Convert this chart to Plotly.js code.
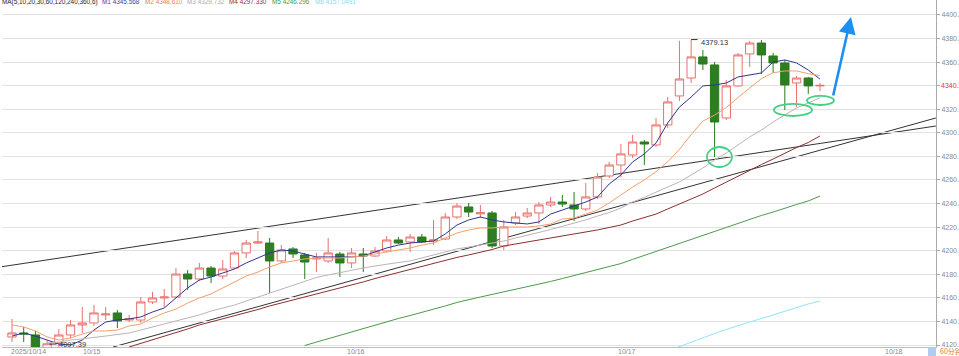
<!DOCTYPE html>
<html><head><meta charset="utf-8">
<script src="https://cdn.plot.ly/plotly-3.0.1.min.js"></script>
<style>html,body{margin:0;padding:0;background:#fff;} #chart{width:959px;height:356px;}</style>
</head><body><div id="chart"></div>
<script>
// 60-minute bars, 2025/10/14 - 10/18
const openP = [4126.8,4130.2,4128.5,4113.0,4121.7,4128.5,4137.0,4138.7,4145.5,4147.2,
4141.2,4141.2,4156.5,4159.9,4160.7,4180.2,4176.0,4185.3,4178.5,4185.3,
4198.1,4206.5,4206.5,4191.3,4201.5,4196.4,4193.0,4191.3,4197.2,4189.6,
4197.2,4195.5,4199.8,4209.1,4207.4,4211.6,4208.2,4209.9,4228.6,4237.1,
4231.3,4232.0,4204.0,4223.5,4229.4,4232.0,4238.8,4241.3,4238.8,4235.4,
4245.6,4263.4,4272.7,4281.2,4292.2,4289.7,4306.7,4331.3,4346.5,4364.4,
4357.6,4312.6,4339.8,4366.9,4376.2,4365.2,4359.3,4342.3,4346.5,4339.8];
const highP = [4142.1,4135.3,4131.9,4124.0,4133.6,4141.2,4152.2,4153.9,4152.2,4149.7,
4145.5,4160.7,4165.0,4167.5,4185.3,4183.6,4189.6,4187.0,4192.1,4199.8,
4209.1,4216.7,4210.8,4204.8,4203.1,4198.1,4198.1,4210.8,4198.9,4202.3,
4202.3,4203.1,4212.5,4211.6,4214.2,4214.2,4226.1,4232.0,4240.5,4240.5,
4238.8,4233.7,4226.1,4232.8,4236.2,4241.3,4245.6,4247.3,4249.8,4257.4,
4265.9,4275.3,4290.5,4298.2,4293.9,4312.6,4330.4,4378.0,4379.13,4370.3,
4360.1,4344.8,4367.8,4377.9,4378.8,4367.8,4361.8,4348.2,4347.4,4342.3];
const lowP = [4122.5,4122.5,4108.0,4097.39,4118.3,4125.9,4130.2,4136.1,4141.2,4134.4,
4139.5,4138.7,4154.8,4152.2,4159.9,4166.7,4174.3,4172.6,4176.0,4184.5,
4193.8,4205.7,4164.1,4189.6,4193.8,4176.0,4181.9,4189.6,4177.7,4185.3,
4181.9,4194.7,4198.9,4205.7,4198.9,4206.5,4204.8,4209.1,4226.9,4228.6,
4227.7,4202.3,4200.6,4221.8,4227.7,4222.7,4237.1,4237.1,4225.2,4233.7,
4243.9,4261.7,4262.5,4278.7,4272.7,4288.0,4304.1,4327.0,4342.3,4353.3,
4279.5,4310.9,4338.9,4355.9,4349.9,4350.8,4319.4,4321.9,4333.0,4335.5];
const closeP = [4130.2,4129.3,4114.0,4121.0,4128.5,4137.0,4138.7,4147.2,4146.3,4140.4,
4142.5,4156.5,4159.9,4160.7,4180.2,4176.0,4185.3,4178.5,4184.5,4198.1,
4206.5,4207.4,4191.3,4200.6,4197.2,4190.4,4193.8,4198.1,4189.6,4198.1,
4195.5,4199.8,4209.1,4206.5,4211.6,4207.4,4209.1,4228.6,4237.9,4232.8,
4232.2,4204.0,4220.1,4228.6,4232.0,4238.8,4241.3,4239.6,4235.4,4245.6,
4262.5,4272.7,4282.1,4292.2,4290.5,4306.7,4326.2,4345.7,4364.4,4358.4,
4309.2,4339.8,4366.1,4376.2,4366.1,4359.3,4340.6,4346.5,4339.8,4340.26];

const ma5 = [4127.6,4130.2,4127.6,4124.2,4120.8,4120.0,4124.2,4132.7,4139.5,4141.2,
4142.1,4143.8,4148.0,4151.4,4159.9,4168.4,4175.1,4177.7,4181.1,4184.5,
4189.6,4193.8,4198.1,4200.6,4199.8,4197.2,4194.7,4194.7,4194.7,4194.7,
4195.5,4198.9,4202.3,4204.8,4206.5,4207.4,4208.2,4214.2,4221.8,4226.1,
4228.6,4226.1,4224.4,4223.5,4222.7,4224.4,4231.1,4234.5,4237.9,4241.3,
4245.6,4256.6,4264.2,4275.3,4282.1,4291.4,4308.4,4321.9,4330.4,4339.8,
4340.6,4342.3,4347.4,4349.1,4350.8,4360.1,4361.8,4359.3,4353.3,4345.568];
const ma10 = [4137.0,4135.3,4131.9,4126.8,4124.2,4125.9,4129.3,4131.9,4131.9,4132.7,
4136.1,4137.8,4142.9,4147.2,4150.5,4155.6,4159.9,4163.3,4168.4,4173.5,
4178.5,4181.9,4186.2,4189.6,4191.3,4193.0,4193.8,4193.8,4193.8,4194.7,
4195.5,4197.2,4198.9,4200.6,4202.3,4204.8,4206.5,4210.8,4215.0,4217.6,
4219.3,4219.3,4220.1,4220.1,4220.1,4221.0,4222.7,4226.9,4227.7,4231.1,
4234.5,4240.5,4247.5,4254.0,4260.0,4267.0,4275.5,4286.0,4298.5,4310.0,
4315.0,4321.5,4330.0,4338.3,4346.0,4351.0,4352.5,4352.5,4350.2,4348.610];
const ma20 = [null,null,null,4121.7,4122.5,4124.2,4125.1,4126.4,4127.6,4128.9,
4130.2,4132.7,4135.3,4137.8,4140.4,4142.9,4145.5,4148.8,4151.4,4153.9,
4157.3,4160.7,4164.1,4167.5,4170.9,4174.3,4177.3,4179.4,4181.5,4183.6,
4185.3,4187.0,4188.7,4190.0,4191.3,4193.8,4196.4,4199.4,4201.5,4203.1,
4204.8,4206.1,4208.2,4210.8,4212.9,4215.5,4218.0,4220.5,4223.1,4226.1,
4229.4,4232.4,4236.2,4241.3,4245.2,4249.8,4254.1,4258.3,4264.2,4270.2,
4277.0,4282.9,4289.7,4296.5,4302.4,4309.2,4315.2,4321.1,4325.3,4329.732];
const ma30 = [null,null,null,null,null,null,null,null,null,null,
4118.3,4121.3,4124.2,4127.6,4130.6,4133.6,4137.0,4139.5,4142.1,4144.6,
4147.6,4150.1,4153.1,4155.6,4158.2,4160.7,4163.3,4165.8,4168.4,4170.9,
4173.5,4176.4,4179.0,4181.5,4184.0,4186.6,4189.1,4191.7,4194.3,4196.4,
4198.5,4201.0,4204.0,4205.7,4207.4,4209.1,4210.4,4212.1,4213.8,4215.9,
4217.6,4219.7,4221.8,4225.2,4228.2,4231.1,4235.4,4239.6,4243.9,4248.1,
4253.2,4258.3,4263.4,4268.5,4273.1,4277.8,4282.9,4287.5,4291.8,4297.330];
const ma60 = [null,null,null,null,null,null,null,null,null,null,
null,null,null,null,null,null,null,null,null,null,
null,null,null,null,null,4119.6,4122.5,4125.1,4128.1,4131.0,
4134.0,4137.0,4139.5,4142.5,4145.0,4147.6,4150.5,4153.1,4156.1,4158.6,
4160.7,4162.9,4165.0,4167.5,4169.7,4171.8,4173.9,4176.4,4179.0,4181.5,
4184.0,4186.6,4189.1,4192.6,4196.0,4199.4,4202.7,4206.1,4209.5,4213.3,
4216.7,4220.1,4223.5,4226.5,4229.9,4232.8,4236.2,4239.2,4242.2,4246.296];
const ma120 = [null,null,null,null,null,null,null,null,null,null,
null,null,null,null,null,null,null,null,null,null,
null,null,null,null,null,null,null,null,null,null,
null,null,null,null,null,null,null,null,null,null,
null,null,null,null,null,null,null,null,null,null,
null,null,null,null,null,null,4114.9,4118.7,4122.5,4125.9,
4129.8,4133.2,4136.5,4139.5,4142.5,4145.5,4148.8,4151.8,4154.8,4157.3];

const dateTicks = [1.4, 6.8, 29.4, 52.5, 75.3];
const dateLabels = ['2025/10/14','10/15','10/16','10/17','10/18'];
const priceTicks = [4120,4140,4160,4180,4200,4220,4240,4260,4280,4300,4320,4340,4360,4380,4400];
const priceLabels = priceTicks.map(v => v === 4340 ? '' : v.toFixed(2));
const lastPrice = 4340.26;
const maNames = ['M1','M2','M3','M4','M5','M6'];
const maLast = ['4345.568','4348.610','4329.732','4297.330','4246.296','4157.0491'];
const maColors = ['#2e3590','#f0a070','#bdb4b4','#8e2e2e','#4b9a4b','#8fe6f6'];
const legendColors = ['#3a3aa8','#e8804a','#aaaaaa','#9a2a2a','#3a9a3a','#7fdcf4'];

const idx = openP.map((_, i) => i);
const traces = [];
const maSeries = [ma5, ma10, ma20, ma30, ma60, ma120];
maSeries.forEach((s, k) => traces.push({
  type:'scatter', mode:'lines', x: idx, y: s, line:{color: maColors[k], width:1},
  hoverinfo:'skip', connectgaps:false
}));
traces.push({
  type:'candlestick', x: idx, open: openP, high: highP, low: lowP, close: closeP,
  increasing:{line:{color:'#e8706c', width:1}, fillcolor:'#ffffff'},
  decreasing:{line:{color:'#2a7a1e', width:1}, fillcolor:'#2e7d22'},
  whiskerwidth:0
});

const fontFam = 'Liberation Sans, Arial, sans-serif';
const ann = [];
const legX = [0, 100, 143, 185, 227, 270, 313];
const toPaperX = px => (px - 2) / 934;
ann.push({xref:'paper', yref:'paper', x: toPaperX(legX[0]), y: 1 - 2/347, xanchor:'left', yanchor:'middle',
  text:'MA(5,10,20,30,60,120,240,360,6)', showarrow:false, font:{size:6.4, color:'#222', family:fontFam}});
maNames.forEach((n, k) => ann.push({xref:'paper', yref:'paper', x: toPaperX(legX[k+1]), y: 1 - 2/347,
  xanchor:'left', yanchor:'middle', text: n + ' ' + maLast[k], showarrow:false,
  font:{size:6.4, color: legendColors[k], family:fontFam}}));
ann.push({xref:'paper', yref:'y', x:1, y:lastPrice, xanchor:'left', yanchor:'middle', xshift:3,
  text: lastPrice.toFixed(2), showarrow:false, font:{size:7, color:'#e03a2a', family:fontFam}});
ann.push({xref:'x', yref:'y', x:58.65, y:highP[58], xanchor:'left', yanchor:'middle', yshift:-3,
  text: highP[58].toFixed(2), showarrow:false, font:{size:7.5, color:'#333', family:fontFam}});
ann.push({xref:'x', yref:'y', x:3.85, y:4120.8, xanchor:'left', yanchor:'middle',
  text: lowP[3].toFixed(2), showarrow:false, font:{size:7.5, color:'#333', family:fontFam}});
dateTicks.forEach((t, k) => ann.push({xref:'x', yref:'paper', x:t, y:-(4.3/347), xanchor:'center', yanchor:'middle',
  text: dateLabels[k], showarrow:false, font:{size:7, color:'#8a8a8a', family:fontFam}}));
ann.push({xref:'paper', yref:'paper', x:1, y:-(4.3/347), xanchor:'left', yanchor:'middle', xshift:2,
  text:'60分钟', showarrow:false, font:{size:7, color:'#e0782a', family:'Noto Sans CJK SC, sans-serif'}});
// blue arrow
ann.push({xref:'x', yref:'y', x:71.65, y:4398.3, axref:'x', ayref:'y', ax:70.1, ay:4330.4,
  text:'', showarrow:true, arrowhead:2, arrowsize:1.3, arrowwidth:2.6, arrowcolor:'#1e8ff0'});

const shapes = [
  // trend lines
  {type:'line', xref:'x', yref:'y', x0:-1.02, y0:4186.2, x1:78.9, y1:4305.8, line:{color:'#333', width:1}, layer:'below'},
  {type:'line', xref:'x', yref:'y', x0:8.63, y0:4118.3, x1:78.9, y1:4312.6, line:{color:'#333', width:1}, layer:'below'},
  // high / low markers
  {type:'line', xref:'x', yref:'y', x0:58, y0:highP[58], x1:58.55, y1:highP[58], line:{color:'#333', width:1}},
  {type:'line', xref:'x', yref:'y', x0:3.2, y0:4120.8, x1:3.8, y1:4120.8, line:{color:'#333', width:1}},
  // green ellipses
  {type:'circle', xref:'x', yref:'y', x0:59.35, x1:61.48, y0:4271.0, y1:4288.0, line:{color:'#44d184', width:1.8}},
  {type:'circle', xref:'x', yref:'y', x0:65.07, x1:68.32, y0:4314.3, y1:4324.5, line:{color:'#44d184', width:1.8}},
  {type:'circle', xref:'x', yref:'y', x0:67.89, x1:70.2, y0:4323.6, y1:4331.3, line:{color:'#44d184', width:1.8}},
  // period box
  {type:'rect', xref:'paper', yref:'paper', x0:(928-2)/934, x1:1, y0:-9/347, y1:0, fillcolor:'#b0cdf0', line:{width:0}}
];

const layout = {
  width:959, height:356,
  margin:{l:2, r:23, t:0, b:9, pad:0},
  paper_bgcolor:'#fff', plot_bgcolor:'#fff',
  showlegend:false,
  boxgap:0.29, boxgroupgap:0,
  font:{family:fontFam, size:7, color:'#888'},
  xaxis:{range:[-0.854, 78.91], rangeslider:{visible:false}, showgrid:false, zeroline:false,
    showticklabels:false, ticks:'',
    showline:true, linecolor:'#bbb', linewidth:1, fixedrange:true},
  yaxis:{range:[4118.3, 4412.7], side:'right', tickvals: priceTicks, ticktext: priceLabels,
    showgrid:true, gridcolor:'#e2e2e2', gridwidth:1, zeroline:false, ticks:'outside', ticklen:3,
    tickcolor:'#aaa', showline:true, linecolor:'#aaa', linewidth:1, tickfont:{size:7, color:'#8a8a8a'}, fixedrange:true},
  annotations: ann,
  shapes: shapes
};
Plotly.newPlot('chart', traces, layout, {displayModeBar:false, staticPlot:true});
</script></body></html>
